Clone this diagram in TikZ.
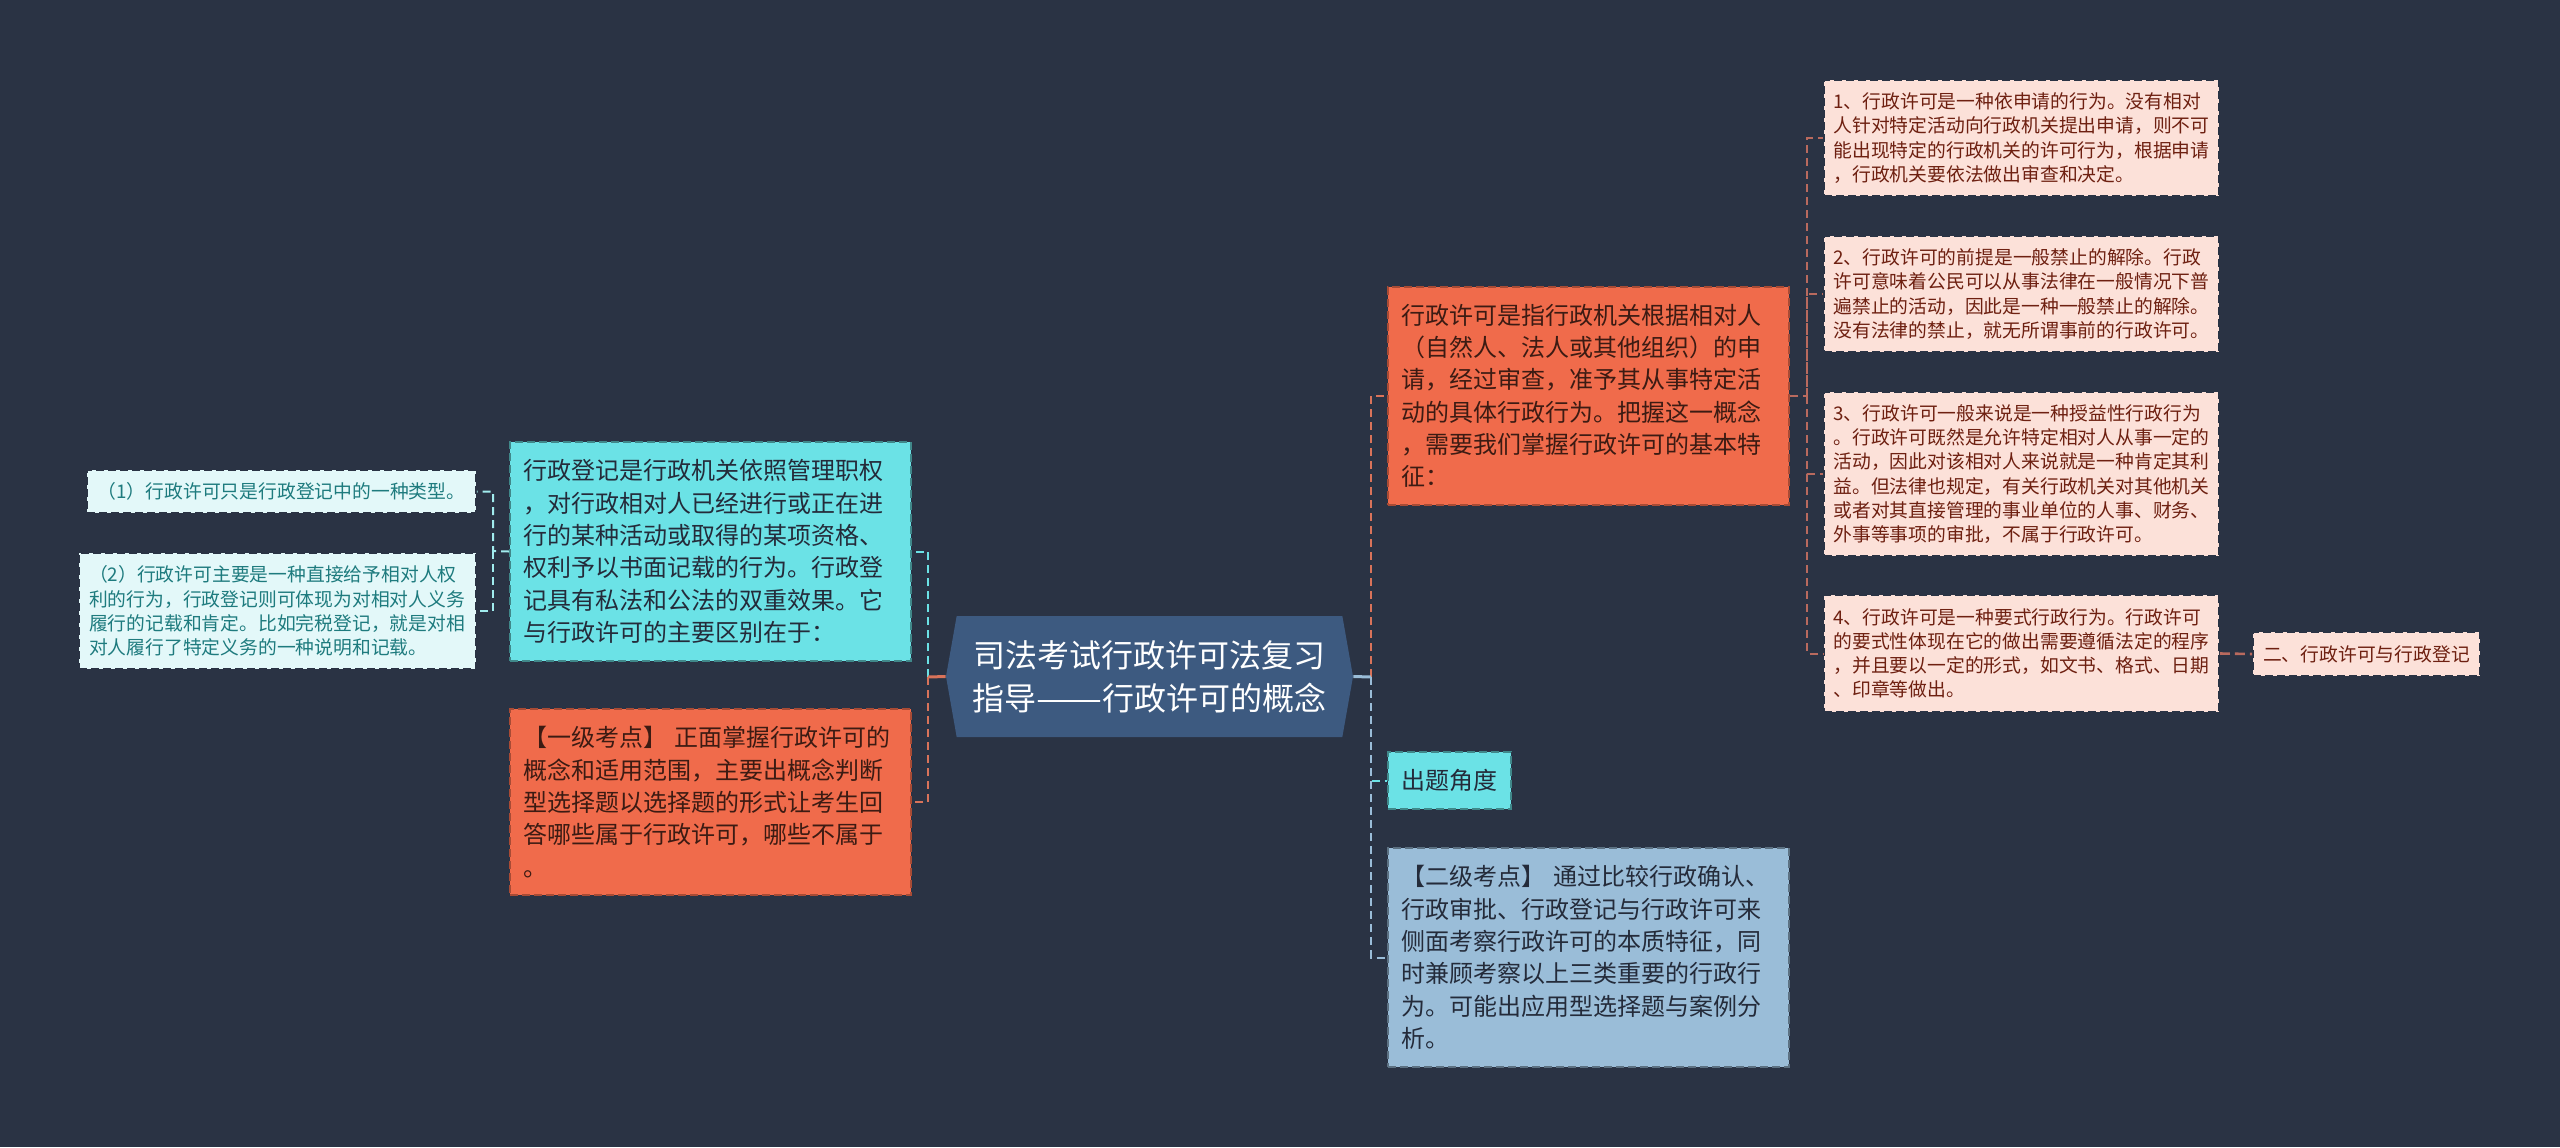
\documentclass[tikz,border=0pt]{standalone}
\usepackage{fontspec}
\usepackage{graphicx}
\setmainfont{Noto Sans CJK SC}
\usetikzlibrary{shapes.symbols}

\definecolor{bgdark}{HTML}{2A3344}
\definecolor{rootblue}{HTML}{3D5A80}
\definecolor{hotorange}{HTML}{F06B4B}
\definecolor{brightcyan}{HTML}{6BE2E6}
\definecolor{palecyan}{HTML}{E3F8F9}
\definecolor{paleorange}{HTML}{FCE1D9}
\definecolor{softblue}{HTML}{9ABDD8}
\definecolor{orangeline}{HTML}{D9735A}
\definecolor{duskline}{HTML}{B96A5E}
\definecolor{tealtext}{HTML}{1E7B7E}
\definecolor{rusttext}{HTML}{6E2011}

\tikzset{
  basebox/.style={rectangle,inner sep=0pt,align=left,line width=0.9pt,dash pattern=on 4pt off 2pt},
  bigtext/.style={font=\fontsize{12}{16.15}\selectfont},
  smalltext/.style={font=\fontsize{9.4}{12.1}\selectfont},
  cyanbox/.style={basebox,bigtext,fill=brightcyan,draw=brightcyan!60!black,text=bgdark!85!black},
  hotbox/.style={basebox,bigtext,fill=hotorange,draw=hotorange!70!black,text=hotorange!25!black},
  bluebox/.style={basebox,bigtext,fill=softblue,draw=softblue!60!black,text=bgdark!85!black},
  lightcyan/.style={basebox,smalltext,fill=palecyan,draw=bgdark,text=tealtext},
  lightorange/.style={basebox,smalltext,fill=paleorange,draw=bgdark,text=rusttext},
  rootbox/.style={shape=signal,signal to=east and west,signal pointer angle=160,inner sep=0pt,
    fill=rootblue,text=white,align=center,font=\fontsize{16}{21.5}\selectfont},
  link/.style={line width=1pt,dash pattern=on 4pt off 2.5pt},
}

\begin{document}
\begin{tikzpicture}[x=0.5pt,y=-0.5pt]
  % background
  \fill[bgdark] (0,0) rectangle (2560,1147);
  \useasboundingbox (0,0) rectangle (2560,1147);

  % centre
  \node[rootbox,minimum width=203.5pt,minimum height=60.5pt] (root) at (1149.5,676.5)
    {司法考试行政许可法复习\\指导\scalebox{1.23}[1]{——}行政许可的概念};

  % left side
  \node[cyanbox,text width=187.5pt,minimum width=200.5pt,minimum height=109.5pt] (regist) at (710.5,551.5)
    {行政登记是行政机关依照管理职权\\，对行政相对人已经进行或正在进\\行的某种活动或取得的某项资格、\\权利予以书面记载的行为。行政登\\记具有私法和公法的双重效果。它\\与行政许可的主要区别在于：};
  \node[hotbox,text width=187.5pt,minimum width=200.5pt,minimum height=93pt] (levelone) at (710.5,802)
    {【一级考点】 正面掌握行政许可的\\概念和适用范围，主要出概念判断\\型选择题以选择题的形式让考生回\\答哪些属于行政许可，哪些不属于\\。};
  \node[lightcyan,minimum width=194.5pt,minimum height=21.5pt] (diffa) at (281.5,491.5)
    {（1）行政许可只是行政登记中的一种类型。};
  \node[lightcyan,text width=188.5pt,minimum width=198.5pt,minimum height=58pt] (diffb) at (277.5,611)
    {（2）行政许可主要是一种直接给予相对人权\\利的行为，行政登记则可体现为对相对人义务\\履行的记载和肯定。比如完税登记，就是对相\\对人履行了特定义务的一种说明和记载。};

  % right side
  \node[hotbox,text width=187.5pt,minimum width=200.5pt,minimum height=109pt] (concept) at (1588.5,396)
    {行政许可是指行政机关根据相对人\\（自然人、法人或其他组织）的申\\请，经过审查，准予其从事特定活\\动的具体行政行为。把握这一概念\\，需要我们掌握行政许可的基本特\\征：};
  \node[cyanbox,minimum width=61.5pt,minimum height=28.5pt] (angle) at (1449.5,780.5) {出题角度};
  \node[bluebox,text width=187.5pt,minimum width=200.5pt,minimum height=109.5pt] (leveltwo) at (1588.5,957.5)
    {【二级考点】 通过比较行政确认、\\行政审批、行政登记与行政许可来\\侧面考察行政许可的本质特征，同\\时兼顾考察以上三类重要的行政行\\为。可能出应用型选择题与案例分\\析。};
  \node[lightorange,text width=188pt,minimum width=197.5pt,minimum height=58pt] (feata) at (2021.5,138)
    {1、行政许可是一种依申请的行为。没有相对\\人针对特定活动向行政机关提出申请，则不可\\能出现特定的行政机关的许可行为，根据申请\\，行政机关要依法做出审查和决定。};
  \node[lightorange,text width=188pt,minimum width=197.5pt,minimum height=58pt] (featb) at (2021.5,294)
    {2、行政许可的前提是一般禁止的解除。行政\\许可意味着公民可以从事法律在一般情况下普\\遍禁止的活动，因此是一种一般禁止的解除。\\没有法律的禁止，就无所谓事前的行政许可。};
  \node[lightorange,text width=188pt,minimum width=197.5pt,minimum height=82pt] (featc) at (2021.5,474)
    {3、行政许可一般来说是一种授益性行政行为\\。行政许可既然是允许特定相对人从事一定的\\活动，因此对该相对人来说就是一种肯定其利\\益。但法律也规定，有关行政机关对其他机关\\或者对其直接管理的事业单位的人事、财务、\\外事等事项的审批，不属于行政许可。};
  \node[lightorange,text width=188pt,minimum width=197.5pt,minimum height=58.5pt] (featd) at (2021.5,653.5)
    {4、行政许可是一种要式行政行为。行政许可\\的要式性体现在它的做出需要遵循法定的程序\\，并且要以一定的形式，如文书、格式、日期\\、印章等做出。};
  \node[lightorange,minimum width=113.5pt,minimum height=22pt] (compare) at (2366.5,654)
    {二、行政许可与行政登记};

  % connectors
  \coordinate (busleft) at (928,677);
  \coordinate (busright) at (1371,677);
  \coordinate (busdiff) at (493,551);
  \coordinate (busfeat) at (1807,396);
  \draw[link,brightcyan] (busleft) |- (regist.east);
  \draw[link,orangeline] (busleft) |- (levelone.east);
  \draw[orangeline,line width=1.5pt] (root.west) -- (busleft);
  \draw[link,orangeline] (busright) |- (concept.west);
  \draw[link,brightcyan] (busright) |- (angle.west);
  \draw[link,softblue] (busright) |- (leveltwo.west);
  \draw[softblue,line width=1.5pt] (root.east) -- (busright);
  \draw[link,brightcyan!55!palecyan] (regist.west) -- (busdiff) |- (diffa.east);
  \draw[link,brightcyan!55!palecyan] (busdiff) |- (diffb.east);
  \draw[link,duskline] (concept.east) -- (busfeat) |- (feata.west);
  \draw[link,duskline] (busfeat) |- (featb.west);
  \draw[link,duskline] (busfeat) |- (featc.west);
  \draw[link,duskline] (busfeat) |- (featd.west);
  \draw[duskline,line width=1.3pt,dash pattern=on 5pt off 2.5pt] (featd.east) -- (compare.west);
\end{tikzpicture}
\end{document}
